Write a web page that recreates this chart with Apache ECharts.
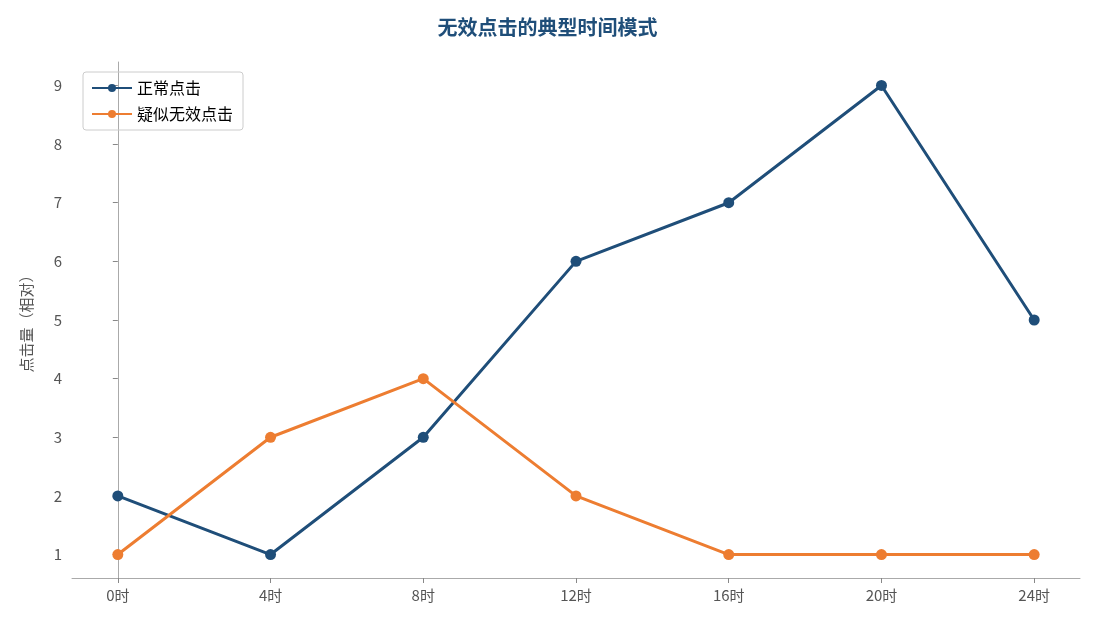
<!DOCTYPE html>
<html><head><meta charset="utf-8">
<script src="https://cdn.jsdelivr.net/npm/echarts@6/dist/echarts.min.js"></script>
<style>html,body{margin:0;padding:0;background:#fff}#c{width:1095px;height:630px}</style>
</head><body><div id="c"></div>
<script>
const hours = [0, 4, 8, 12, 16, 20, 24];
const normalClicks = [2, 1, 3, 6, 7, 9, 5];
const suspectClicks = [1, 3, 4, 2, 1, 1, 1];
const yTicks = [1, 2, 3, 4, 5, 6, 7, 8, 9];
const font = '"Noto Sans CJK SC", "Noto Sans", sans-serif';
const chart = echarts.init(document.getElementById('c'));
chart.setOption({
  animation: false,
  textStyle: {fontFamily: font},
  title: {text: '无效点击的典型时间模式', left: 'center', top: 12,
    textStyle: {fontSize: 20, fontWeight: 'bold', color: '#1f4e79', fontFamily: font}},
  grid: {left: 72, right: 15, top: 62, bottom: 52},
  legend: {orient: 'vertical', left: 83, top: 72, padding: [8, 10, 8, 8], itemGap: 10,
    borderColor: '#ccc', borderWidth: 1, borderRadius: 3, itemWidth: 40, itemHeight: 10,
    textStyle: {fontSize: 16, color: '#000'}},
  xAxis: {type: 'value', min: -1.2, max: 25.2,
    axisLine: {lineStyle: {color: '#aaa'}},
    axisTick: {show: true, customValues: hours, length: 5, lineStyle: {color: '#888'}},
    axisLabel: {customValues: hours, formatter: v => v + '时', fontSize: 15, color: '#555', margin: 10},
    splitLine: {show: false}},
  yAxis: {type: 'value', min: 0.6, max: 9.4, name: '点击量（相对）', nameLocation: 'middle', nameGap: 38,
    nameTextStyle: {fontSize: 15, color: '#555'},
    axisLine: {show: true, lineStyle: {color: '#aaa'}},
    axisTick: {show: true, customValues: yTicks, length: 5, lineStyle: {color: '#888'}},
    axisLabel: {customValues: yTicks, fontSize: 15, color: '#555', margin: 10},
    splitLine: {show: false}},
  series: [
    {name: '正常点击', type: 'line', data: hours.map((h, i) => [h, normalClicks[i]]),
     symbol: 'circle', symbolSize: 11, color: '#1f4e79', lineStyle: {width: 3}},
    {name: '疑似无效点击', type: 'line', data: hours.map((h, i) => [h, suspectClicks[i]]),
     symbol: 'circle', symbolSize: 11, color: '#ed7d31', lineStyle: {width: 3}}
  ]
});
</script></body></html>
